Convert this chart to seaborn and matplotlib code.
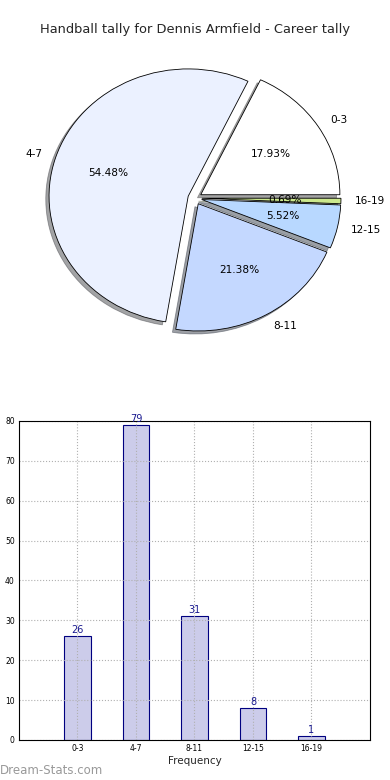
import matplotlib
matplotlib.use("Agg")
import matplotlib.pyplot as plt
import seaborn as sns

# ---------------------------------------------------------------------------
# DATA
# ---------------------------------------------------------------------------
TITLE = "Handball tally for Dennis Armfield - Career tally"
categories = ["0-3", "4-7", "8-11", "12-15", "16-19"]
counts = [26, 79, 31, 8, 1]
pie_colors = ["#ffffff", "#ebf1ff", "#c4d8ff", "#b8d8ff", "#cce88c"]
y_ticks = [0, 10, 20, 30, 40, 50, 60, 70, 80]

BAR_FACE = "#ccccea"
BAR_EDGE = "#000080"

# ---------------------------------------------------------------------------
# FIGURE
# ---------------------------------------------------------------------------
sns.set_style("white")
plt.rcParams["font.family"] = ["DejaVu Sans"]

fig = plt.figure(figsize=(3.9, 7.8), dpi=100)

# pie (top) - not equal aspect, as in the reference
ax1 = fig.add_axes([0.0536, 0.542, 0.892, 0.408])
wedges, texts, autotexts = ax1.pie(
    counts,
    explode=[0.05] * len(counts),
    labels=categories,
    colors=pie_colors,
    autopct="%1.2f%%",
    shadow={"ox": -0.017, "oy": -0.017},
    startangle=0,
    wedgeprops=dict(edgecolor="black", linewidth=0.6),
    textprops=dict(fontsize=7.6, color="black"),
)
ax1.set_aspect("auto")
ax1.set_xlim(-1.25, 1.25)
ax1.set_ylim(-1.25, 1.25)
ax1.axis("off")

fig.text(0.5, 1 - 30 / 780, TITLE, ha="center", va="center", fontsize=9.4)

# bar chart (bottom)
ax2 = fig.add_axes([0.0487, 0.0513, 0.9, 0.409])
sns.barplot(
    x=categories,
    y=counts,
    ax=ax2,
    color=BAR_FACE,
    edgecolor=BAR_EDGE,
    linewidth=0.8,
    width=0.45,
    saturation=1,
)
ax2.bar_label(ax2.containers[0], fontsize=7, color="#1a1a90", padding=1)

ax2.set_xlim(-1, 5)
ax2.set_ylim(0, 80)
ax2.set_yticks(y_ticks)
# grid over the bars but under the spines
ax2.set_axisbelow("line")
ax2.grid(True, linestyle=":", color="#b0b0b0", linewidth=0.8)
ax2.tick_params(axis="both", direction="in", length=3, labelsize=5.5, pad=3,
                colors="black")
ax2.set_xlabel("Frequency", fontsize=7.5, labelpad=2)
ax2.set_ylabel("")
for sp in ax2.spines.values():
    sp.set_visible(True)
    sp.set_color("black")
    sp.set_linewidth(0.8)

fig.text(0.0, 1 - 770 / 780, "Dream-Stats.com", ha="left", va="center",
         fontsize=8.5, color="#999999")

fig.savefig("out.png", dpi=100)
